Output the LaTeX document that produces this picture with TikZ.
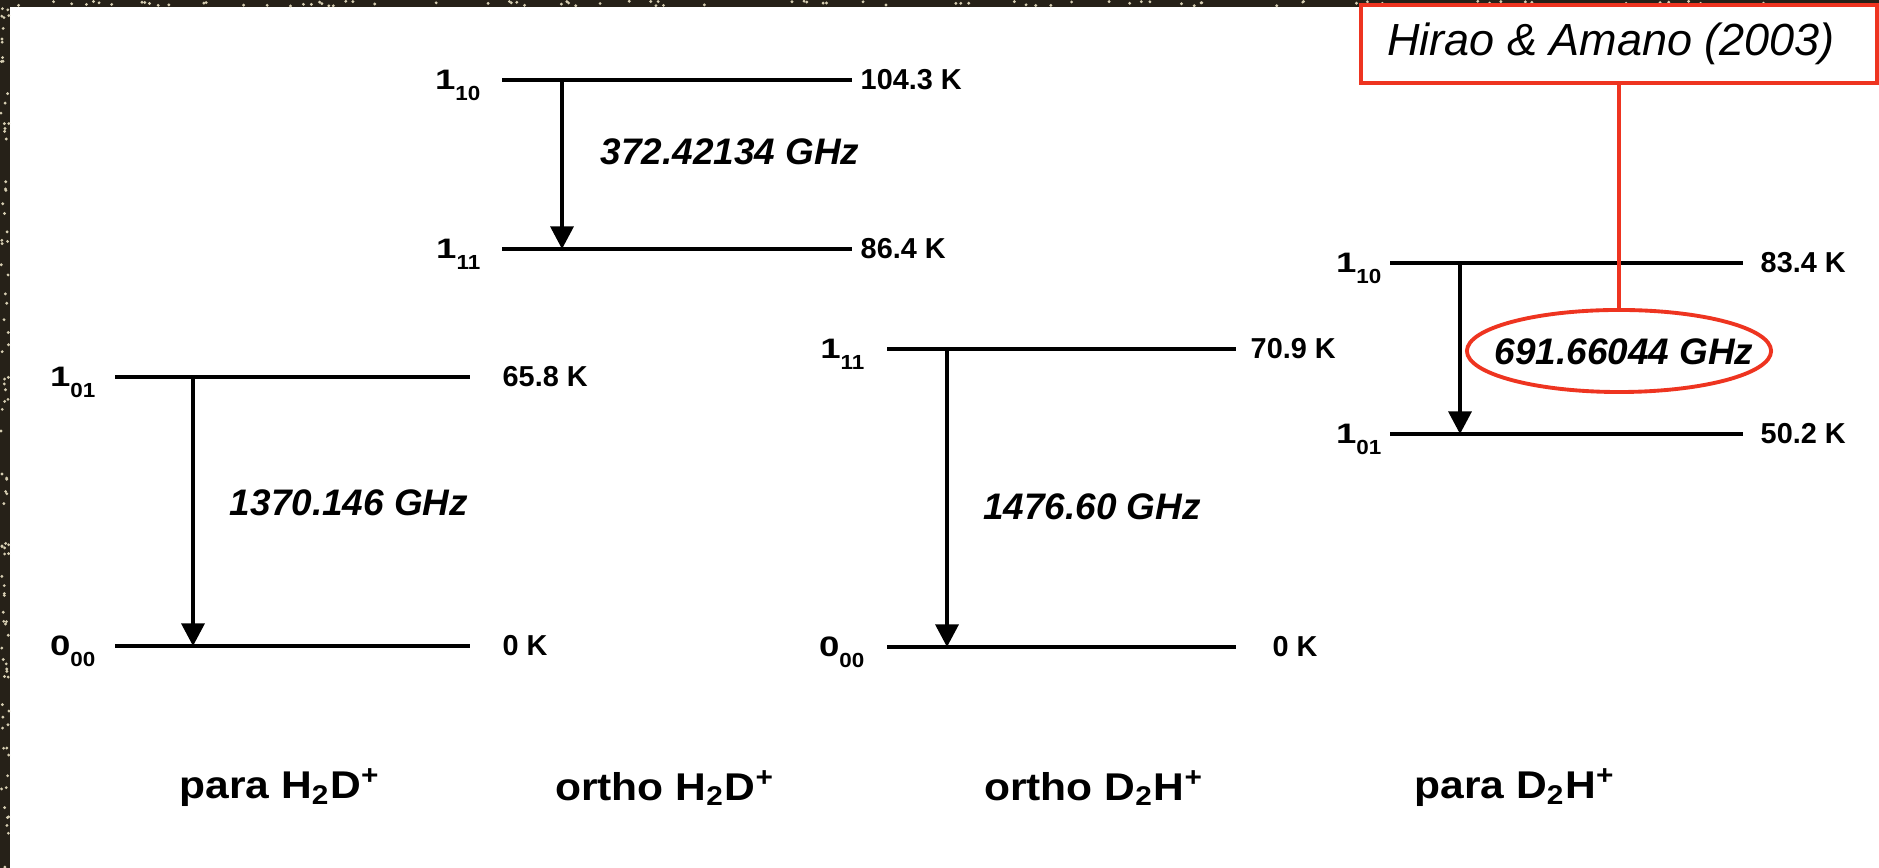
\documentclass[tikz,border=0pt]{standalone}
\usepackage{fontspec}
\usepackage{graphicx}
\setmainfont{Liberation Sans}
\usetikzlibrary{arrows.meta,calc,shapes.geometric}
\definecolor{annot}{RGB}{238,52,32}
\definecolor{starbg}{RGB}{38,33,24}
\definecolor{fleck}{RGB}{214,206,178}
\newcommand\rotlev[2]{\scalebox{1.3}[1]{\fontsize{8}{9}\selectfont #1}\raisebox{-3.1pt}{\scalebox{1.1}[1]{\fontsize{5.8}{6}\selectfont #2}}}
\newcommand\wide[1]{\scalebox{1.1}[1]{#1}}

\begin{document}
\begin{tikzpicture}[
    x=0.01cm, y=-0.01cm,
    level/.style={line width=1pt},
    trans/.style={line width=1pt, -{Triangle[width=6.5pt,length=6.4pt]}},
    jlab/.style={anchor=base east, inner sep=0pt, font=\bfseries},
    elab/.style={anchor=west, inner sep=0pt, font=\bfseries\fontsize{8.2}{9}\selectfont},
    freq/.style={font=\bfseries\itshape\fontsize{10.5}{12}\selectfont, inner sep=0pt},
    species/.style={font=\bfseries\fontsize{11}{13}\selectfont, inner sep=0pt},
    refbox/.style={draw=annot, fill=white, line width=1.1pt, minimum width=5.15cm, minimum height=0.78cm, font=\itshape\fontsize{12.8}{14}\selectfont},
    ring/.style={draw=annot, line width=1.1pt, ellipse, minimum width=3.04cm, minimum height=0.82cm, inner sep=0pt}
  ]
  \useasboundingbox (0,0) rectangle (1879,868);
  \fill[white] (0,0) rectangle (1879,868);
  \fill[starbg] (0,0) rectangle (10,868);
  \fill[starbg] (0,0) rectangle (1879,7);
  \pgfmathsetseed{7}
  \foreach \i in {1,...,90} {
    \fill[fleck] ({1+rnd*8},{rnd*868}) circle (0.45pt);
    \fill[fleck] ({rnd*1879},{1+rnd*5}) circle (0.45pt);
  }

  \foreach \n/\xa/\xb/\y/\xl/\j/\k/\en/\xe in {
      pa1/115/470/377/96/1/01/65.8 K/502,
      pa0/115/470/646/96/0/00/0 K/502,
      oa1/502/852/80/481/1/10/104.3 K/860,
      oa0/502/852/249/481/1/11/86.4 K/860,
      ob1/887/1236/349/865/1/11/70.9 K/1250,
      ob0/887/1236/647/865/0/00/0 K/1272,
      pb1/1390/1743/263/1382/1/10/83.4 K/1760,
      pb0/1390/1743/434/1382/1/01/50.2 K/1760}{
    \coordinate (\n-l) at (\xa,\y);
    \coordinate (\n-r) at (\xb,\y);
    \draw[level] (\n-l) -- (\n-r);
    \node[jlab] (\n-j) at (\xl,\y+10) {\rotlev{\j}{\k}};
    \node[elab] (\n-e) at (\xe,\y) {\en};
  }
  \foreach \u/\d/\dx in {pa1/pa0/78, oa1/oa0/60, ob1/ob0/60, pb1/pb0/70}
    \draw[trans] ($(\u-l)+(\dx,0)$) -- ($(\d-l)+(\dx,0)$);

  \node[freq] (f-pa) at (349,503) {1370.146 GHz};
  \node[freq] (f-oa) at (730,152) {372.42134 GHz};
  \node[freq] (f-ob) at (1092,507) {1476.60 GHz};
  \node[freq] (f-pb) at (1624,352) {691.66044 GHz};

  \node[species] (sp-pa) at (280,788) {\wide{para H\textsubscript{2}D\textsuperscript{+}}};
  \node[species] (sp-oa) at (665,788) {\wide{ortho H\textsubscript{2}D\textsuperscript{+}}};
  \node[species] (sp-ob) at (1094,788) {\wide{ortho D\textsubscript{2}H\textsuperscript{+}}};
  \node[species] (sp-pb) at (1515,788) {\wide{para D\textsubscript{2}H\textsuperscript{+}}};

  \node[ring] (ring) at (1619,351) {};
  \node[refbox] (ref) at (1619,44) {Hirao \& Amano (2003)\kern0.16cm};
  \draw[annot, line width=1.1pt] (ref) -- (ring);
\end{tikzpicture}
\end{document}
